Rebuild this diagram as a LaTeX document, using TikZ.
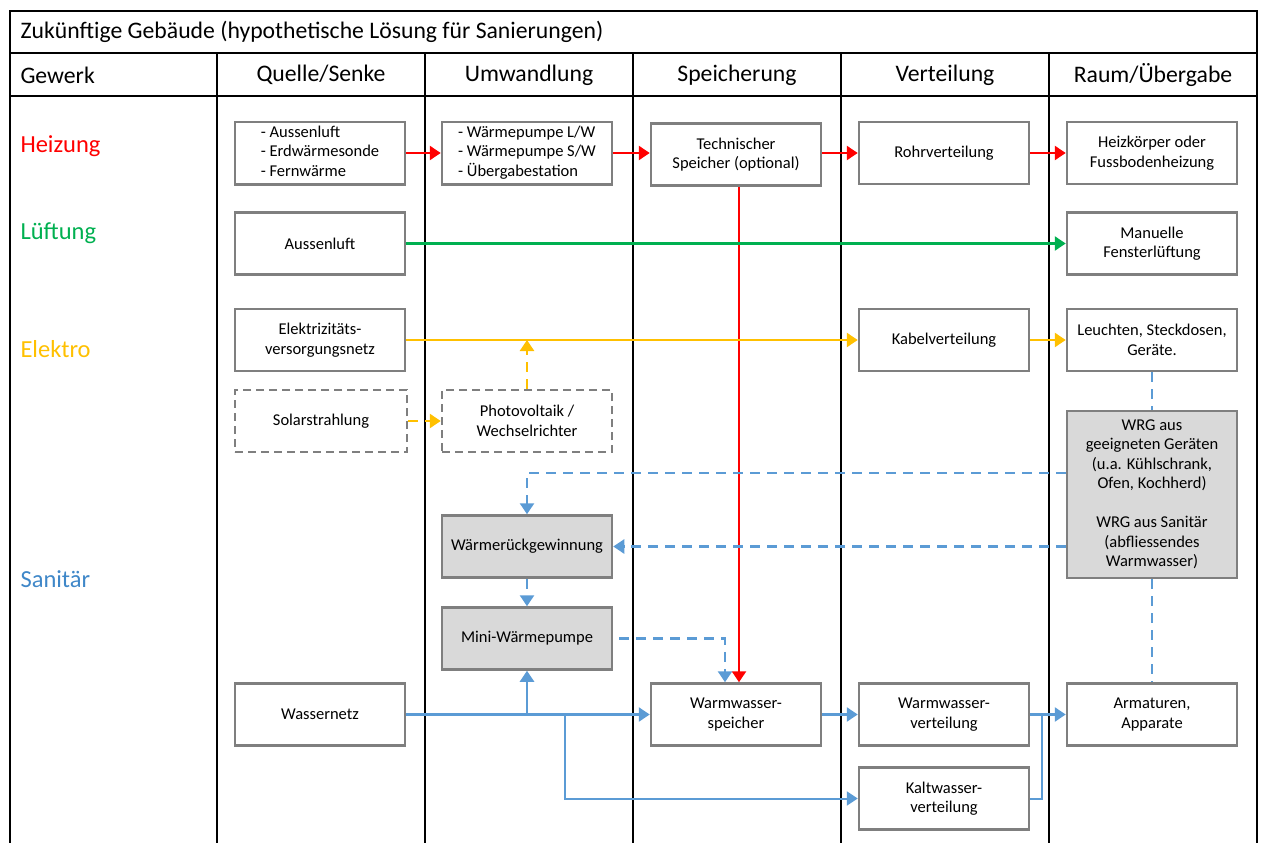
\documentclass[tikz,border=0pt]{standalone}
\usepackage{fontspec}
\setmainfont{Carlito}
\usetikzlibrary{arrows.meta}

\definecolor{boxgray}{HTML}{7F7F7F}
\definecolor{boxfill}{HTML}{D9D9D9}
\definecolor{heizred}{HTML}{FF0000}
\definecolor{luftgreen}{HTML}{00B050}
\definecolor{elekgold}{HTML}{FFC000}
\definecolor{sanblue}{HTML}{5B9BD5}
\definecolor{sanlabel}{HTML}{3F87C8}

\newcommand{\boxfont}{\fontsize{16.5}{19.5}\selectfont}
\newcommand{\headfont}{\fontsize{23.7}{27}\selectfont}
\newcommand{\rowfont}{\fontsize{24.5}{28}\selectfont}

\begin{document}
\begin{tikzpicture}[
    x=1pt, y=-1pt,
    box/.style={draw=boxgray, line width=2.5pt, fill=white,
        minimum width=170pt, minimum height=62pt, inner sep=2pt,
        align=center, font=\boxfont},
    dashbox/.style={box, dash pattern=on 8pt off 5pt},
    graybox/.style={box, fill=boxfill},
    grid/.style={line width=2pt, black},
    flow/.style={line width=2.5pt, -{Triangle[width=14pt,length=11pt]}},
    link/.style={line width=2.5pt},
    dashflow/.style={flow, dash pattern=on 10pt off 7pt},
    dashlink/.style={link, dash pattern=on 10pt off 7pt}
]
    \useasboundingbox (0,0) rectangle (1262,843);

    % table
    \draw[grid] (10,843) -- (10,11) -- (1257,11) -- (1257,843);
    \draw[grid] (10,53) -- (1257,53);
    \draw[grid] (10,96) -- (1257,96);
    \foreach \x in {217,425,633,841,1049}
        \draw[grid] (\x,53) -- (\x,843);

    \node[anchor=west, font=\headfont] (title) at (17,32)
        {Zukünftige Gebäude (hypothetische Lösung für Sanierungen)};
    \node[anchor=west, font=\headfont] (hgewerk) at (17,75) {Gewerk};
    \node[font=\headfont] (hquelle) at (321,75) {Quelle/Senke};
    \node[font=\headfont] (humw) at (529,75) {Umwandlung};
    \node[font=\headfont] (hspei) at (737,75) {Speicherung};
    \node[font=\headfont] (hvert) at (945,75) {Verteilung};
    \node[font=\headfont] (hraum) at (1153,75) {Raum/Übergabe};

    % row labels
    \node[anchor=west, font=\rowfont, text=heizred] (lheiz) at (17,146) {Heizung};
    \node[anchor=west, font=\rowfont, text=luftgreen] (lluft) at (17,233) {Lüftung};
    \node[anchor=west, font=\rowfont, text=elekgold] (lelek) at (17,349) {Elektro};
    \node[anchor=west, font=\rowfont, text=sanlabel] (lsan) at (17,579) {Sanitär};

    % boxes
    \node[box] (qheiz) at (320,153) {\begin{tabular}{@{}l@{}}- Aussenluft\\- Erdwärmesonde\\- Fernwärme\end{tabular}};
    \node[box] (uheiz) at (527,153) {\begin{tabular}{@{}l@{}}- Wärmepumpe L/W\\- Wärmepumpe S/W\\- Übergabestation\end{tabular}};
    \node[box] (sheiz) at (736,154.5) {Technischer\\Speicher (optional)};
    \node[box] (vheiz) at (944,153) {Rohrverteilung};
    \node[box] (rheiz) at (1152,153) {Heizkörper oder\\Fussbodenheizung};

    \node[box] (qluft) at (320,243.5) {Aussenluft};
    \node[box] (rluft) at (1152,243.5) {Manuelle\\Fensterlüftung};

    \node[box] (qelek) at (320,340) {Elektrizitäts-\\versorgungsnetz};
    \node[box] (velek) at (944,340) {Kabelverteilung};
    \node[box] (relek) at (1152,340) {Leuchten, Steckdosen,\\Geräte.};

    \node[dashbox, minimum width=172pt] (qsolar) at (321,421) {Solarstrahlung};
    \node[dashbox] (upv) at (527,421) {Photovoltaik /\\Wechselrichter};

    \node[graybox, minimum height=167pt] (rwrg) at (1152,494.5)
        {WRG aus\\geeigneten Geräten\\(u.a. Kühlschrank,\\Ofen, Kochherd)\\[19.5pt]WRG aus Sanitär\\(abfliessendes\\Warmwasser)};
    \node[graybox] (uwrg) at (527,546.5) {Wärmerückgewinnung};
    \node[graybox] (umwp) at (527,638.5) {Mini-Wärmepumpe};

    \node[box] (qwasser) at (320,714.5) {Wassernetz};
    \node[box] (sww) at (736,714.5) {Warmwasser-\\speicher};
    \node[box] (vww) at (944,714.5) {Warmwasser-\\verteilung};
    \node[box] (rarm) at (1152,714.5) {Armaturen,\\Apparate};
    \node[box] (vkw) at (944,798.5) {Kaltwasser-\\verteilung};

    % Heizung
    \draw[flow, heizred] (qheiz.east) -- (uheiz.west);
    \draw[flow, heizred] (uheiz.east) -- (sheiz.west |- uheiz.east);
    \draw[flow, heizred] (sheiz.east |- vheiz.west) -- (vheiz.west);
    \draw[flow, heizred] (vheiz.east) -- (rheiz.west);
    \draw[flow, heizred] ([xshift=3pt]sheiz.south) -- ([xshift=3pt]sww.north);

    % Lueftung
    \draw[flow, luftgreen] (qluft.east) -- (rluft.west);

    % Elektro
    \draw[flow, elekgold] (qelek.east) -- (velek.west);
    \draw[flow, elekgold] (velek.east) -- (relek.west);
    \draw[dashflow, elekgold] (qsolar.east) -- (upv.west);
    \draw[dashflow, elekgold] (upv.north) -- (upv.north |- qelek.east);

    % Sanitaer
    \draw[dashlink, sanblue] (relek.south) -- (rwrg.north);
    \draw[dashlink, sanblue] (rwrg.south) -- (rarm.north);
    \draw[dashflow, sanblue] ([yshift=21.5pt]rwrg.west) -| (uwrg.north);
    \draw[dashflow, sanblue] (rwrg.west |- uwrg.east) -- (uwrg.east);
    \draw[dashflow, sanblue] (uwrg.south) -- (umwp.north);
    \draw[dashflow, sanblue] ([xshift=6pt]umwp.east) -| ([xshift=-11pt]sww.north);

    \coordinate (kwab) at (565,714.5);
    \draw[flow, sanblue] (qwasser.east) -- (sww.west);
    \draw[link, sanblue, line width=3.5pt] (qwasser.east) -- (qwasser.east -| umwp.south);
    \draw[flow, sanblue] (qwasser.east -| umwp.south) -- (umwp.south);
    \draw[flow, sanblue, line width=2pt] (kwab) |- (vkw.west);
    \draw[flow, sanblue] (sww.east) -- (vww.west);
    \draw[flow, sanblue] (vww.east) -- (rarm.west);
    \draw[link, sanblue, line width=2pt] (vkw.east) -| ([xshift=12pt]vww.east);
\end{tikzpicture}
\end{document}
